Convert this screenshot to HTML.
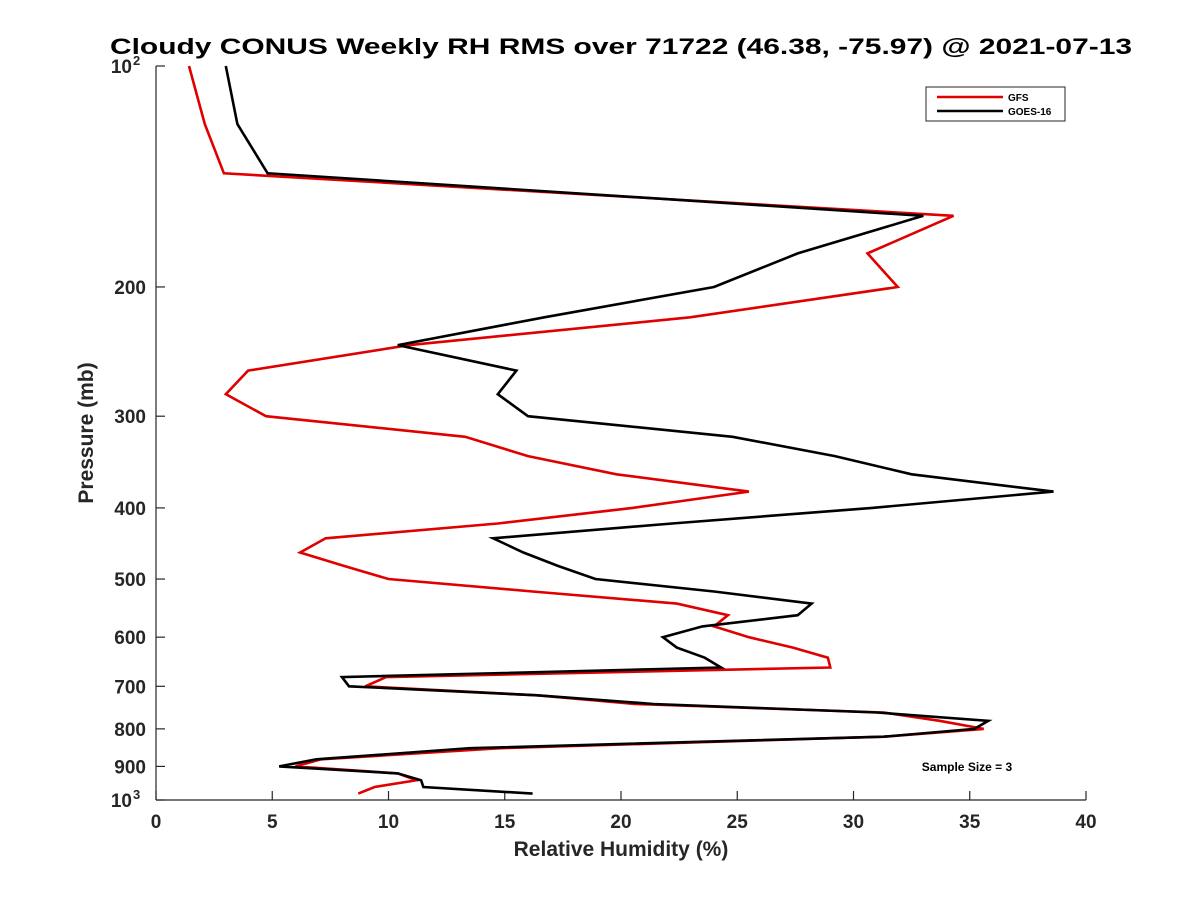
<!DOCTYPE html>
<html><head><meta charset="utf-8"><style>
html,body{margin:0;padding:0;background:#fff}
svg{display:block;font-family:"Liberation Sans",sans-serif}
</style></head><body>
<svg id="chart" width="1200" height="900" viewBox="0 0 1200 900" xmlns="http://www.w3.org/2000/svg">
<rect width="1200" height="900" fill="#fff"/>
<text x="621" y="54" text-anchor="middle" font-size="22" font-weight="bold" textLength="1022" lengthAdjust="spacingAndGlyphs">Cloudy CONUS Weekly RH RMS over 71722 (46.38, -75.97) @ 2021-07-13</text>
<g id="axes"></g>
<g id="series"></g>
<text x="621" y="856" text-anchor="middle" font-size="21" font-weight="bold" fill="#262626">Relative Humidity (%)</text>
<text transform="translate(93,433) rotate(-90)" text-anchor="middle" font-size="21" font-weight="bold" fill="#262626">Pressure (mb)</text>
<text x="967" y="771" text-anchor="middle" font-size="12" font-weight="bold">Sample Size = 3</text>
<g>
<rect x="926" y="87" width="139" height="34" fill="#fff" stroke="#262626" stroke-width="1"/>
<line x1="937" y1="97" x2="1003" y2="97" stroke="#e00000" stroke-width="2.5"/>
<text x="1008" y="101" font-size="10" font-weight="bold">GFS</text>
<line x1="937" y1="111" x2="1003" y2="111" stroke="#000" stroke-width="2.5"/>
<text x="1008" y="115" font-size="10" font-weight="bold">GOES-16</text>
</g>
</svg>
<script>
const pressures = [100,120,140,160,180,200,220,240,260,280,300,320,340,360,380,400,420,440,460,480,500,520,540,560,580,600,620,640,660,680,700,720,740,760,780,800,820,850,880,900,920,940,960,980];
const gfsValues = [1.42,2.1,2.92,34.3,30.6,31.9,22.97,10.9,3.96,3.0,4.73,13.3,16.0,19.8,25.5,20.5,14.7,7.3,6.2,8.1,10.0,16.2,22.4,24.6,24.0,25.5,27.4,28.9,29.0,9.9,9.0,16.4,20.6,31.3,33.7,35.6,31.3,14.8,7.1,6.0,10.4,11.2,9.4,8.7];
const goesValues = [3.0,3.5,4.8,33.0,27.6,24.0,16.7,10.4,15.5,14.7,16.0,24.8,29.2,32.5,38.6,30.8,22.2,14.5,15.8,17.3,18.9,24.0,28.2,27.6,23.5,21.8,22.4,23.6,24.3,8.0,8.3,16.4,21.4,31.0,35.8,35.2,31.3,13.5,6.9,5.3,10.4,11.4,11.5,16.2];
const xTicks = [0,5,10,15,20,25,30,35,40];
const yTicks = [100,200,300,400,500,600,700,800,900,1000];
const yTickLabels = ["10","200","300","400","500","600","700","800","900","10"];

const X0=156, X1=1086, Y0=66, Y1=800;
const xs = v => X0 + (v-0)/(40-0)*(X1-X0);
const ys = p => Y0 + Math.log10(p/100)*(Y1-Y0);
const NS="http://www.w3.org/2000/svg";
const axes=document.getElementById('axes');
const series=document.getElementById('series');
function mk(tag, attrs, parent){const e=document.createElementNS(NS,tag);for(const k in attrs)e.setAttribute(k,attrs[k]);parent.appendChild(e);return e;}

let e=mk('line',{x1:X0,y1:Y0,x2:X0,y2:Y1,stroke:'#262626','stroke-width':1.2},axes);


e=mk('line',{x1:X0,y1:Y1,x2:X1,y2:Y1,stroke:'#262626','stroke-width':1.2},axes);



xTicks.forEach(v=>{
  const x=xs(v);
  const t=mk('line',{x1:x,y1:Y1,x2:x,y2:Y1-9,stroke:'#262626','stroke-width':1.2},axes);
  
  
  const l=mk('text',{x:x,y:Y1+28,'text-anchor':'middle','font-size':19,'font-weight':'bold',fill:'#262626'},axes);
  l.textContent=String(v);
  
  
});
yTicks.forEach((p,i)=>{
  const y=ys(p);
  const t=mk('line',{x1:X0,y1:y,x2:X0+9,y2:y,stroke:'#262626','stroke-width':1.2},axes);
  
  
  const l=mk('text',{x:X0-10,y:y+7,'text-anchor':'end','font-size':19,'font-weight':'bold',fill:'#262626'},axes);
  
  
  if(p===100||p===1000){
    l.setAttribute('x',X0-24);
    l.textContent=yTickLabels[i];
    const s=mk('text',{x:X0-23,y:y-1,'text-anchor':'start','font-size':13,'font-weight':'bold',fill:'#262626'},axes);
    s.textContent=(p===100?'2':'3');
    
    
  } else l.textContent=yTickLabels[i];
});

function drawLine(vals,color,name){
  const d=vals.map((v,i)=>(i?'L':'M')+xs(v).toFixed(1)+' '+ys(pressures[i]).toFixed(1)).join(' ');
  const p=mk('path',{d:d,fill:'none',stroke:color,'stroke-width':2.6,'stroke-linejoin':'miter'},series);
  
  
}
drawLine(gfsValues,'#e00000','gfs-line');
drawLine(goesValues,'#000000','goes16-line');
</script>
</body></html>
